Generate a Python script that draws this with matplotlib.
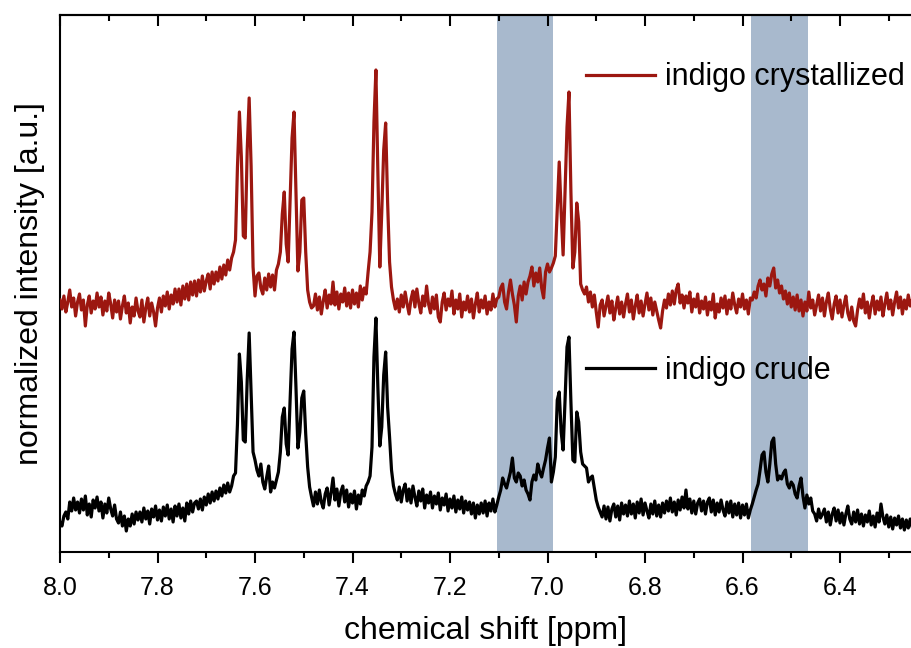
import numpy as np
import matplotlib
matplotlib.use("Agg")
import matplotlib.pyplot as plt
from matplotlib.ticker import MultipleLocator

plt.rcParams['font.family'] = ['Liberation Sans', 'DejaVu Sans']

# Spectra are sampled on a uniform chemical-shift grid starting at 8.000 ppm
ppm_start = 8.0
ppm_step = 0.004

# Intensity (a.u.) of the crude sample, one value per grid point
crude = [
    30, 26, 36, 40, 33, 50, 41, 54, 42, 50,      # 8.00
    39, 53, 42, 56, 37, 48, 35, 52, 44, 55,      # 7.96
    41, 50, 34, 48, 39, 54, 43, 36, 47, 33,      # 7.92
    29, 40, 26, 36, 21, 33, 26, 38, 28, 40,      # 7.88
    32, 40, 30, 44, 33, 41, 28, 43, 35, 46,      # 7.84
    32, 42, 31, 45, 36, 47, 33, 43, 30, 46,      # 7.80
    36, 48, 34, 44, 31, 49, 38, 51, 40, 49,      # 7.76
    51, 43, 53, 42, 55, 47, 58, 49, 60, 51,      # 7.72
    61, 53, 64, 56, 67, 59, 69, 60, 66, 76,      # 7.68
    79, 128, 198, 170, 112, 110, 172, 219, 160, 100,   # 7.64
    92, 82, 76, 88, 70, 63, 75, 86, 60, 70,      # 7.60
    64, 72, 80, 100, 135, 144, 108, 97, 152, 203,      # 7.56
    220, 165, 104, 120, 154, 161, 118, 85, 65, 55,     # 7.52
    46, 60, 48, 62, 50, 44, 58, 64, 47, 59,      # 7.48
    74, 52, 63, 46, 60, 66, 50, 62, 45, 58,      # 7.44
    49, 61, 43, 57, 48, 62, 56, 66, 70, 76,      # 7.40
    105, 195, 234, 165, 106, 125, 177, 200, 145, 115,  # 7.36
    82, 66, 58, 52, 65, 50, 62, 68, 51, 63,      # 7.32
    49, 66, 55, 46, 61, 51, 63, 44, 57, 49,      # 7.28
    60, 44, 56, 48, 59, 42, 54, 47, 58, 41,      # 7.24
    53, 44, 56, 40, 52, 43, 55, 39, 51, 42,      # 7.20
    50, 38, 49, 34, 47, 38, 49, 39, 51, 36,      # 7.16
    49, 41, 53, 40, 47, 55, 62, 74, 68, 64,      # 7.12
    72, 80, 94, 74, 70, 79, 76, 66, 72, 62,      # 7.08
    58, 52, 70, 77, 72, 88, 80, 75, 84, 92,      # 7.04
    104, 114, 70, 80, 95, 152, 160, 120, 102, 152,     # 7.00
    205, 215, 150, 92, 90, 140, 130, 100, 88, 86,      # 6.96
    84, 70, 74, 76, 64, 52, 45, 40, 35, 46,      # 6.92
    33, 45, 31, 43, 48, 35, 46, 32, 49, 38,      # 6.88
    47, 36, 51, 38, 48, 34, 50, 39, 53, 37,      # 6.84
    49, 41, 34, 48, 38, 51, 36, 47, 35, 49,      # 6.80
    39, 51, 41, 54, 40, 50, 37, 52, 42, 55,      # 6.76
    44, 62, 43, 53, 39, 51, 38, 49, 53, 41,      # 6.72
    51, 38, 50, 54, 40, 52, 37, 49, 40, 52,      # 6.68
    42, 36, 50, 39, 51, 35, 48, 37, 49, 34,      # 6.64
    47, 37, 48, 34, 42, 48, 55, 62, 68, 82,      # 6.60
    97, 100, 80, 70, 88, 110, 114, 88, 72, 76,   # 6.56
    73, 79, 82, 68, 64, 70, 67, 58, 54, 66,      # 6.52
    74, 56, 44, 57, 48, 54, 41, 38, 31, 43,      # 6.48
    34, 38, 43, 30, 40, 27, 38, 44, 31, 42,      # 6.44
    29, 39, 27, 38, 46, 33, 28, 40, 30, 42,      # 6.40
    28, 38, 26, 37, 30, 41, 27, 36, 25, 39,      # 6.36
    30, 48, 35, 28, 37, 25, 35, 23, 34, 27,      # 6.32
    36, 24, 33, 22, 32, 24, 33, 25,              # 6.28
]

# Intensity (a.u.) of the crystallized sample, stacked above the crude one
crystallized = [
    252, 243, 256, 240, 250, 262, 245, 254, 236, 250,  # 8.00
    258, 242, 252, 226, 247, 256, 239, 251, 243, 259,  # 7.96
    245, 255, 237, 251, 241, 259, 248, 234, 252, 240,  # 7.92
    251, 233, 246, 256, 239, 249, 229, 245, 236, 254,  # 7.88
    241, 235, 252, 230, 244, 254, 236, 249, 240, 226,  # 7.84
    244, 254, 240, 256, 246, 260, 243, 257, 248, 263,  # 7.80
    250, 263, 247, 266, 253, 268, 252, 270, 257, 271,  # 7.76
    256, 272, 260, 276, 261, 271, 278, 263, 280, 268,  # 7.72
    280, 271, 285, 273, 287, 277, 292, 282, 294, 300,  # 7.68
    312, 385, 440, 395, 316, 314, 402, 454, 386, 285,  # 7.64
    256, 276, 279, 264, 258, 274, 262, 278, 265, 277,  # 7.60
    262, 282, 288, 300, 338, 360, 308, 290, 352, 414,  # 7.56
    440, 360, 281, 300, 352, 354, 300, 262, 250, 244,  # 7.52
    246, 258, 242, 255, 238, 251, 262, 244, 257, 248,  # 7.48
    270, 247, 260, 243, 258, 250, 264, 246, 259, 244,  # 7.44
    262, 248, 259, 245, 266, 252, 264, 258, 280, 300,  # 7.40
    340, 430, 482, 380, 285, 340, 402, 429, 350, 290,  # 7.36
    265, 252, 243, 253, 240, 257, 245, 260, 248, 238,  # 7.32
    253, 261, 245, 263, 249, 239, 256, 246, 266, 248,  # 7.28
    239, 255, 243, 257, 235, 230, 250, 259, 242, 253,  # 7.24
    246, 261, 238, 252, 243, 258, 235, 250, 242, 256,  # 7.20
    240, 253, 234, 248, 259, 240, 252, 244, 256, 238,  # 7.16
    250, 242, 258, 245, 253, 255, 264, 268, 250, 243,  # 7.12
    260, 272, 258, 247, 230, 256, 266, 252, 270, 258,  # 7.08
    270, 276, 285, 266, 279, 270, 284, 264, 254, 280,  # 7.04
    288, 280, 284, 289, 296, 342, 390, 340, 297, 362,  # 7.00
    425, 460, 360, 284, 300, 349, 330, 268, 262, 258,  # 6.96
    265, 250, 260, 245, 257, 240, 225, 247, 252, 236,  # 6.92
    246, 256, 239, 251, 232, 244, 255, 238, 250, 235,  # 6.88
    248, 258, 240, 252, 233, 246, 257, 239, 251, 236,  # 6.84
    248, 259, 242, 254, 237, 250, 241, 232, 224, 241,  # 6.80
    252, 244, 258, 247, 261, 248, 262, 268, 249, 257,  # 6.76
    244, 256, 249, 260, 240, 253, 245, 258, 239, 251,  # 6.72
    243, 255, 237, 250, 242, 258, 234, 248, 240, 254,  # 6.68
    244, 256, 238, 252, 243, 259, 247, 239, 253, 245,  # 6.64
    258, 243, 252, 238, 254, 252, 260, 254, 266, 272,  # 6.60
    262, 268, 256, 274, 266, 278, 284, 264, 272, 259,  # 6.56
    266, 253, 261, 248, 259, 245, 255, 242, 257, 241,  # 6.52
    252, 236, 250, 241, 260, 244, 252, 237, 247, 257,  # 6.48
    241, 254, 236, 250, 259, 243, 233, 248, 256, 239,  # 6.44
    252, 235, 247, 256, 239, 232, 245, 231, 226, 242,  # 6.40
    253, 244, 258, 239, 250, 234, 247, 256, 238, 251,  # 6.36
    242, 255, 236, 248, 259, 243, 252, 237, 250, 260,  # 6.32
    244, 255, 238, 252, 243, 257, 246, 252,            # 6.28
]

series_labels = ["indigo crude", "indigo crystallized"]
series_colors = ["#000000", "#9c1710"]

# Highlighted chemical-shift windows (ppm)
highlight_windows = [(7.104, 6.988), (6.583, 6.466)]
highlight_color = "#a8b9cd"

ppm = ppm_start - ppm_step * np.arange(len(crude))

fig = plt.figure(figsize=(9.11, 6.48), dpi=100)
ax = fig.add_axes([60 / 911, 96 / 648, 851 / 911, 537 / 648])

for lo, hi in highlight_windows:
    ax.axvspan(lo, hi, color=highlight_color, lw=0, zorder=0)

line_crude, = ax.plot(ppm, crude, color=series_colors[0], lw=2.3,
                      solid_joinstyle="round", zorder=3)
line_cryst, = ax.plot(ppm, crystallized, color=series_colors[1], lw=2.3,
                      solid_joinstyle="round", zorder=3)

ax.set_xlim(8.0, 6.2544)
ax.set_ylim(0, 537)

for side in ("left", "bottom", "top"):
    ax.spines[side].set_linewidth(1.5)
ax.spines["right"].set_visible(False)

ax.set_yticks([])
ax.xaxis.set_major_locator(MultipleLocator(0.2))
ax.xaxis.set_minor_locator(MultipleLocator(0.1))
ax.tick_params(axis="x", which="major", direction="out", length=8, width=1.5,
               labelsize=18, pad=9)
ax.tick_params(axis="x", which="minor", direction="out", length=4.5, width=1.5)

top = ax.secondary_xaxis("top")
top.xaxis.set_major_locator(MultipleLocator(0.2))
top.xaxis.set_minor_locator(MultipleLocator(0.1))
top.tick_params(axis="x", which="major", direction="in", length=8, width=1.5,
                labeltop=False)
top.tick_params(axis="x", which="minor", direction="in", length=4.5, width=1.5)
top.spines["top"].set_linewidth(1.5)

ax.set_xlabel("chemical shift [ppm]", fontsize=23, labelpad=12)
ax.set_ylabel("normalized intensity [a.u.]", fontsize=23, labelpad=11)

leg_style = dict(loc="center left", frameon=False, fontsize=22,
                 handlelength=2.25, handletextpad=0.33,
                 borderpad=0, borderaxespad=0)
leg_top = ax.legend([line_cryst], [series_labels[1]],
                    bbox_to_anchor=(0.618, 0.884), **leg_style)
ax.add_artist(leg_top)
ax.legend([line_crude], [series_labels[0]],
          bbox_to_anchor=(0.618, 0.337), **leg_style)

fig.savefig("out.png", dpi=100)
